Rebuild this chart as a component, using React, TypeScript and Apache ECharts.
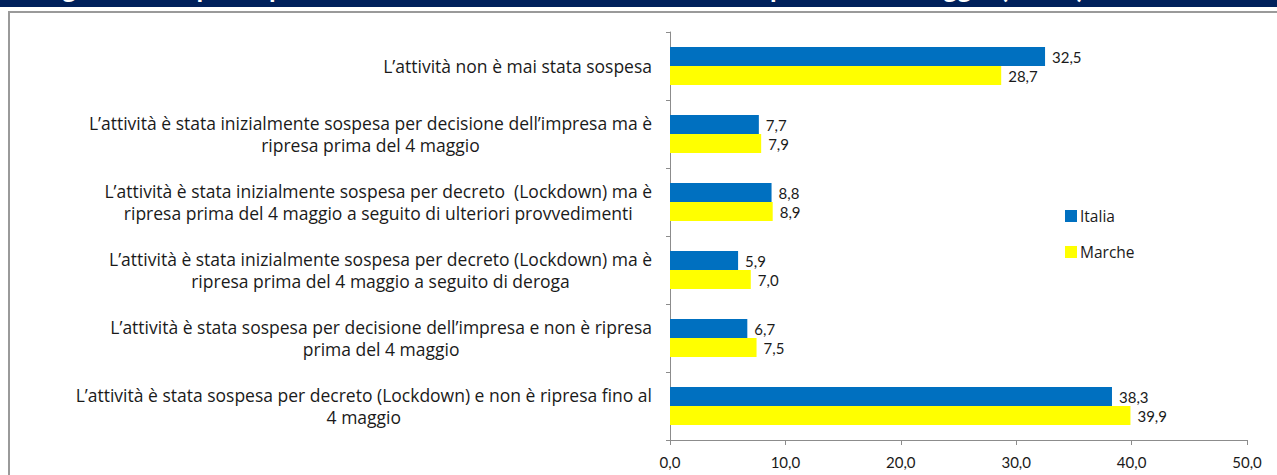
import React, { useEffect, useRef } from "react";
import * as echarts from "echarts";

const titleText =
  "Figura 2 – Imprese per stato dell’attività tra il lockdown e la ripresa del 4 maggio (val. %)";

const categories: string[] = [
  "L’attività non è mai stata sospesa",
  "L’attività è stata inizialmente sospesa per decisione dell’impresa ma è\nripresa prima del 4 maggio",
  "L’attività è stata inizialmente sospesa per decreto  (Lockdown) ma è\nripresa prima del 4 maggio a seguito di ulteriori provvedimenti",
  "L’attività è stata inizialmente sospesa per decreto (Lockdown) ma è\nripresa prima del 4 maggio a seguito di deroga",
  "L’attività è stata sospesa per decisione dell’impresa e non è ripresa\nprima del 4 maggio",
  "L’attività è stata sospesa per decreto (Lockdown) e non è ripresa fino al\n4 maggio",
];

const seriesNames = ["Italia", "Marche"];
const italia: number[] = [32.5, 7.7, 8.8, 5.9, 6.7, 38.3];
const marche: number[] = [28.7, 7.9, 8.9, 7.0, 7.5, 39.9];

const xMin = 0;
const xMax = 50;
const xInterval = 10;

const fmt = (v: number) => v.toFixed(1).replace(".", ",");

export default function App() {
  const ref = useRef<HTMLDivElement>(null);

  useEffect(() => {
    if (!ref.current) return;
    const chart = echarts.init(ref.current, undefined, { renderer: "svg" });
    const font = "Lato";
    const labelFont = "Open Sans";
    const textColor = "#1a1a1a";
    const axisGray = "#8c8c8c";
    const ySize = 17.5;
    const yLine = 22;

    chart.setOption({
      animation: false,
      backgroundColor: "#ffffff",
      textStyle: { fontFamily: font },
      graphic: [
        {
          type: "rect",
          shape: { x: 0, y: 0, width: 1277, height: 7 },
          style: { fill: "#00205b" },
          z: 10,
        },
        {
          type: "text",
          x: 40,
          y: 1,
          z: 11,
          style: {
            text: titleText,
            fill: "#ffffff",
            font: "bold 27px Lato",
            verticalAlign: "bottom",
          },
        },
        {
          type: "rect",
          shape: { x: 9, y: 12, width: 1300, height: 500 },
          style: { fill: "none", stroke: "#9a9a9a", lineWidth: 2 },
          z: -1,
        },
      ],
      legend: {
        orient: "vertical",
        left: 1060,
        top: 203,
        itemWidth: 12,
        itemHeight: 12,
        itemGap: 20,
        icon: "rect",
        data: seriesNames,
        textStyle: { fontFamily: labelFont, fontSize: 15.5, color: textColor, lineHeight: 14, padding: [0, 0, 0, -2] },
      },
      grid: { left: 670, right: 30, top: 32, bottom: 35, containLabel: false },
      xAxis: {
        type: "value",
        min: xMin,
        max: xMax,
        interval: xInterval,
        splitLine: { show: false },
        axisLine: { show: true, lineStyle: { color: axisGray, width: 1 } },
        axisTick: { show: true, length: 5, lineStyle: { color: axisGray } },
        axisLabel: {
          formatter: (v: number) => fmt(v),
          fontFamily: font,
          fontSize: 15,
          color: textColor,
          margin: 14,
        },
      },
      yAxis: {
        type: "category",
        inverse: true,
        data: categories,
        axisLine: { show: true, lineStyle: { color: axisGray, width: 1 } },
        axisTick: { show: true, length: 4, lineStyle: { color: axisGray } },
        axisLabel: {
          align: "right",
          margin: 18,
          fontFamily: labelFont,
          fontSize: ySize,
          color: textColor,
          lineHeight: yLine,
          formatter: (v: string) =>
            v
              .split("\n")
              .map((l) => "{c|" + l + "}")
              .join("\n"),
          rich: {
            c: { align: "center", fontFamily: labelFont, fontSize: ySize, color: textColor, lineHeight: yLine },
          },
        },
      },
      series: [
        {
          name: seriesNames[0],
          type: "bar",
          data: italia,
          barWidth: 19,
          barGap: "0%",
          itemStyle: { color: "#0070c0" },
          label: {
            show: true,
            position: "right",
            distance: 7,
            formatter: (p: any) => fmt(p.value),
            fontFamily: font,
            fontSize: 15,
            color: textColor,
          },
        },
        {
          name: seriesNames[1],
          type: "bar",
          data: marche,
          barWidth: 19,
          barGap: "0%",
          itemStyle: { color: "#ffff00" },
          label: {
            show: true,
            position: "right",
            distance: 7,
            formatter: (p: any) => fmt(p.value),
            fontFamily: font,
            fontSize: 15,
            color: textColor,
          },
        },
      ],
    });

    return () => chart.dispose();
  }, []);

  return (
    <div
      ref={ref}
      style={{ position: "absolute", left: 0, top: 0, width: 1277, height: 475 }}
    />
  );
}
